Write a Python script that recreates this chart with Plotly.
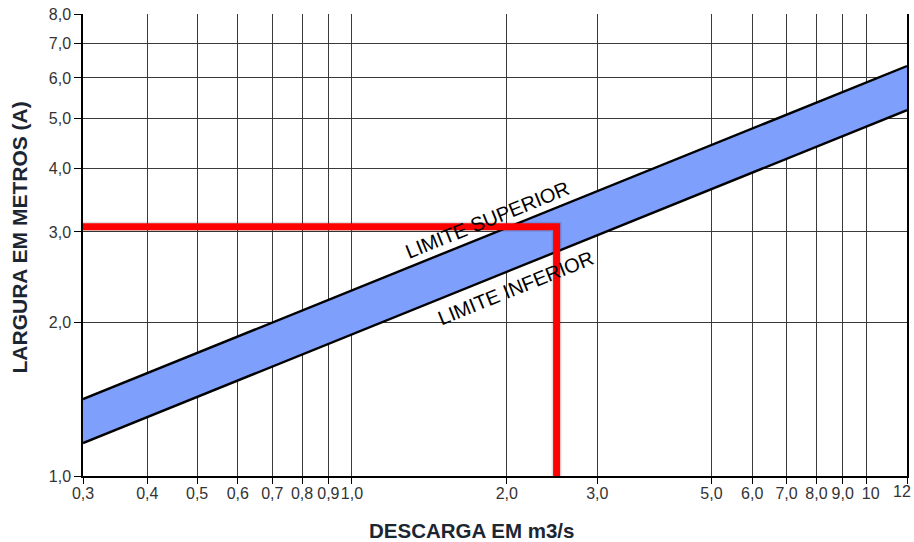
import math
import plotly.graph_objects as go

# Data
descarga = [0.3, 12]                 # m3/s
limite_superior = [1.414, 6.33]      # m
limite_inferior = [1.16, 5.19]       # m
exemplo_q = [0.3, 2.5, 2.5]
exemplo_a = [3.07, 3.07, 1.0]

x_ticks = [0.3, 0.4, 0.5, 0.6, 0.7, 0.8, 0.9, 1.0, 2.0, 3.0, 5.0, 6.0, 7.0, 8.0, 9.0, 10, 12]
x_tick_text = ["0,3", "0,4", "0,5", "0,6", "0,7", "0,8", "0,9", "1,0", "2,0", "3,0",
               "5,0", "6,0", "7,0", "8,0", "9,0", "\u00a0\u00a010", ""]
last_x_label = "12"
y_ticks = [1, 2, 3, 4, 5, 6, 7, 8]
y_tick_text = ["1,0", "2,0", "3,0", "4,0", "5,0", "6,0", "7,0", "8,0"]

fig = go.Figure()
fig.add_trace(go.Scatter(x=descarga, y=limite_inferior, mode="lines",
                         line=dict(color="black", width=2.4), showlegend=False))
fig.add_trace(go.Scatter(x=descarga, y=limite_superior, mode="lines",
                         line=dict(color="black", width=2.4), fill="tonexty",
                         fillcolor="#7f9ffc", showlegend=False))
# shadow of the red example lines
fig.add_trace(go.Scatter(x=exemplo_q, y=exemplo_a, mode="lines",
                         line=dict(color="rgba(0,0,0,0.12)", width=10), showlegend=False))
# red example lines
fig.add_trace(go.Scatter(x=exemplo_q, y=exemplo_a, mode="lines",
                         line=dict(color="#ff0000", width=7), showlegend=False))

font_family = "Liberation Sans, Arial, sans-serif"

fig.add_annotation(x=math.log10(1.83), y=math.log10(3.17), text="LIMITE SUPERIOR",
                   showarrow=False, textangle=-22,
                   font=dict(family=font_family, size=20, color="black"))
fig.add_annotation(x=math.log10(2.08), y=math.log10(2.33), text="LIMITE INFERIOR",
                   showarrow=False, textangle=-22,
                   font=dict(family=font_family, size=20, color="black"))
# last x tick label, kept inside the page
fig.add_annotation(x=math.log10(12), xref="x", yref="paper", y=-0.0325,
                   text=last_x_label, showarrow=False, xanchor="right", yanchor="middle",
                   xshift=6, font=dict(family=font_family, size=16, color="#333333"))
# axis titles
fig.add_annotation(xref="paper", yref="paper", x=0.4709, y=-0.119,
                   text="<b>DESCARGA EM m3/s</b>", showarrow=False,
                   xanchor="center", yanchor="middle",
                   font=dict(family=font_family, size=20.5, color="#1c2633"))
fig.add_annotation(xref="paper", yref="paper", x=-0.0765, y=0.5162,
                   text="<b>LARGURA EM METROS (A)</b>", showarrow=False, textangle=-90,
                   xanchor="center", yanchor="middle",
                   font=dict(family=font_family, size=21, color="#1c2633"))

fig.update_layout(
    width=914, height=542,
    margin=dict(l=83, r=7, t=14, b=66),
    paper_bgcolor="white", plot_bgcolor="white",
    font=dict(family=font_family, size=16, color="#333333"),
    xaxis=dict(type="log", range=[math.log10(0.3) - 1e-6, math.log10(12) + 1e-6],
               tickvals=x_ticks, ticktext=x_tick_text, automargin=False,
               tickangle=0, ticklabelstandoff=-4,
               showgrid=True, gridcolor="#3a3a3a", gridwidth=1,
               showline=True, linecolor="black", linewidth=1.5,
               ticks="outside", ticklen=6, tickcolor="black",
               zeroline=False),
    yaxis=dict(type="log", range=[-1e-6, math.log10(8) + 1e-6],
               tickvals=y_ticks, ticktext=y_tick_text, automargin=False,
               showgrid=True, gridcolor="#3a3a3a", gridwidth=1,
               showline=True, linecolor="black", linewidth=1.5, mirror=True,
               ticks="outside", ticklen=7, tickcolor="black",
               zeroline=False),
)

fig.write_html("out.html", config={"displayModeBar": False},
               post_script="document.body.style.margin='0';document.body.style.overflow='hidden';")
